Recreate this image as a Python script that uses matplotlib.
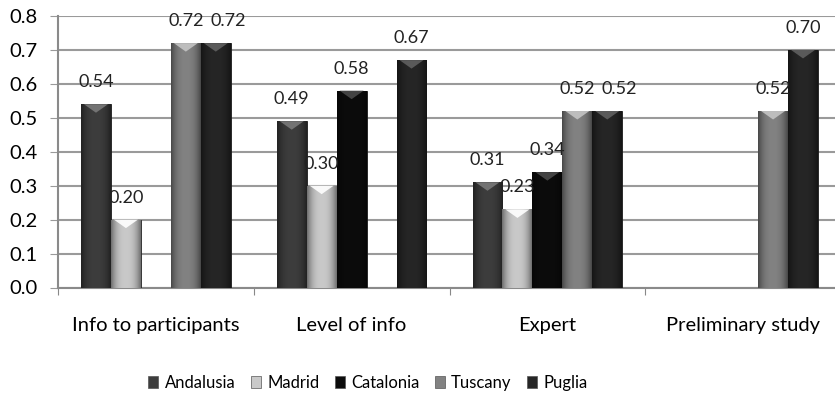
import numpy as np
import matplotlib.pyplot as plt
from matplotlib.patches import Patch, Polygon

plt.rcParams['font.family'] = ['Lato', 'DejaVu Sans']

categories = ['Info to participants', 'Level of info', 'Expert', 'Preliminary study']
regions = ['Andalusia', 'Madrid', 'Catalonia', 'Tuscany', 'Puglia']
andalusia = [0.54, 0.49, 0.31, np.nan]
madrid = [0.20, 0.30, 0.23, np.nan]
catalonia = [np.nan, 0.58, 0.34, np.nan]
tuscany = [0.72, np.nan, 0.52, 0.52]
puglia = [0.72, 0.67, 0.52, 0.70]
series = [andalusia, madrid, catalonia, tuscany, puglia]
colors = ['#3d3d3d', '#c9c9c9', '#0c0c0c', '#828282', '#262626']
tops = ['#7a7a7a', '#ffffff', '#4a4a4a', '#c4c4c4', '#606060']

fig = plt.figure(figsize=(8.35, 4.01), dpi=100)
ax = fig.add_axes([58 / 835, 1 - 287.5 / 401, 783 / 835, 271.5 / 401])

x = np.arange(len(categories))
w = 0.153
grad_x = np.linspace(0, 1, 64)
shade = 1 - 0.45 * np.abs(2 * grad_x - 1) ** 2.5

for i, (vals, col, topc) in enumerate(zip(series, colors, tops)):
    pos = x + (i - 2) * w
    bars = ax.bar(pos, vals, w, color=col, edgecolor='#1a1a1a', linewidth=0.6, zorder=3)
    rgb = np.array(plt.matplotlib.colors.to_rgb(col))
    img = (shade[:, None] * rgb[None, :])[None, :, :]
    for j, (b, v) in enumerate(zip(bars, vals)):
        if np.isnan(v):
            continue
        x0 = b.get_x()
        x1 = x0 + b.get_width()
        im = ax.imshow(img, extent=[x0, x1, 0, v], aspect='auto', zorder=3.5,
                       interpolation='bilinear')
        im.set_clip_path(b)
        # bevelled top
        h = 0.025
        tri = Polygon([[x0 + 0.1 * w, v], [x1 - 0.1 * w, v], [(x0 + x1) / 2, v - h]],
                      closed=True, facecolor=topc, edgecolor='none', alpha=0.9, zorder=4)
        ax.add_patch(tri)
        # nudge a label sideways when its left neighbour sits at the same height
        dx = 0
        if i > 0 and abs(series[i - 1][j] - v) < 0.03:
            dx = 12
        ax.annotate(f'{v:.2f}', (b.get_x() + b.get_width() / 2, v),
                    xytext=(dx, 22), textcoords='offset pixels',
                    ha='center', va='center', fontsize=13, color='#222222', zorder=5)

ax.set_xlim(-0.5, len(categories) - 0.5)
ax.set_ylim(0, 0.8)
ax.set_yticks(np.arange(0, 0.81, 0.1))
ax.set_yticklabels([f'{t:.1f}' for t in np.arange(0, 0.81, 0.1)])
ax.yaxis.grid(True, color='#9a9a9a', linewidth=1.5, zorder=0)
ax.set_axisbelow(True)

ax.set_xticks(np.arange(len(categories) + 1) - 0.5)
ax.set_xticklabels([])
ax.set_xticks(x, minor=True)
ax.set_xticklabels(categories, minor=True, fontsize=14.5)
ax.tick_params(axis='x', which='minor', length=0, pad=21)
ax.tick_params(axis='x', which='major', length=5, color='#888888', direction='out')
ax.tick_params(axis='y', length=6, color='#9a9a9a', labelsize=14.5, pad=9)

for s in ['top', 'right']:
    ax.spines[s].set_visible(False)
for s in ['left', 'bottom']:
    ax.spines[s].set_color('#8a8a8a')
    ax.spines[s].set_linewidth(1.5)

handles = [Patch(facecolor=c, edgecolor='#555555', linewidth=0.5) for c in colors]
fig.legend(handles, regions, loc='center', bbox_to_anchor=(368 / 835, 1 - 383 / 401),
           ncol=5, frameon=False, fontsize=12, handlelength=0.6, handleheight=0.7,
           handletextpad=0.4, columnspacing=0.9)

fig.savefig('out.png', dpi=100)
